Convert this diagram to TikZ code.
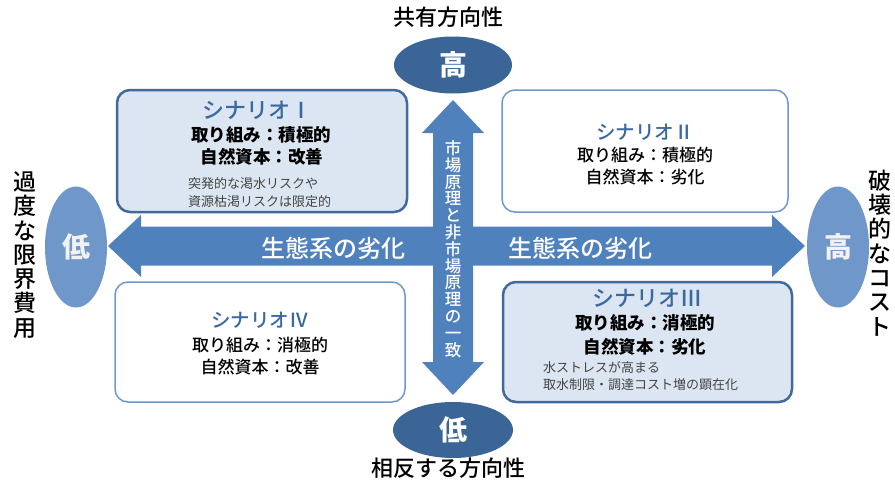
\documentclass[tikz,border=0pt]{standalone}
\usepackage{fontspec}
\setmainfont{Noto Sans CJK JP}
\newfontfamily\medfont{Noto Sans CJK JP Medium}
\definecolor{arrowblue}{HTML}{4F81BD}
\definecolor{ovaldark}{HTML}{3B6597}
\definecolor{ovallight}{HTML}{6F97C9}
\definecolor{boxfill}{HTML}{DCE6F2}
\definecolor{borderdark}{HTML}{41699C}
\definecolor{borderlight}{HTML}{6E98CD}
\definecolor{titleblue}{HTML}{3A68A0}
\definecolor{smallgray}{HTML}{444444}
\tikzset{
  boxdark/.style={draw=borderdark, line width=2.5pt, fill=boxfill, rounded corners=13pt, inner sep=0pt},
  boxlight/.style={draw=borderlight, line width=1.5pt, fill=white, rounded corners=13pt, inner sep=0pt},
  ovaldk/.style={ellipse, fill=ovaldark, text=white, inner sep=0pt, font=\fontsize{28}{28}\selectfont\bfseries},
  ovallt/.style={ellipse, fill=ovallight, text=white!95!black, inner sep=0pt, font=\fontsize{28}{28}\selectfont\bfseries},
  ttl/.style={text=titleblue, inner sep=0pt, font=\fontsize{#1}{#1}\selectfont\medfont},
  line/.style={text=black, inner sep=0pt, font=\fontsize{17}{17}\selectfont\medfont},
  boldline/.style={text=black, inner sep=0pt, font=\fontsize{17.5}{17.5}\selectfont\bfseries},
  small/.style={text=smallgray, inner sep=0pt, anchor=west, font=\fontsize{13}{13}\selectfont},
  axislabel/.style={text=black, inner sep=0pt, font=\fontsize{22}{22}\selectfont\medfont},
  arrowtext/.style={text=white, inner sep=0pt, font=\fontsize{24}{24}\selectfont\medfont},
}
\usetikzlibrary{shapes.geometric}
\begin{document}
\begin{tikzpicture}[x=1pt,y=-1pt]
\useasboundingbox (0,0) rectangle (895,490);
% horizontal double arrow
\fill[arrowblue] (108,246) -- (141,215) -- (141,226.5) -- (772,226.5) -- (772,215) -- (805,246)
  -- (772,277) -- (772,265.5) -- (141,265.5) -- (141,277) -- cycle;
% vertical double arrow
\fill[arrowblue] (453,100) -- (484,133) -- (473,133) -- (473,362) -- (484,362) -- (453,395)
  -- (422,362) -- (433,362) -- (433,133) -- (422,133) -- cycle;

% ovals
\node[ovaldk, minimum width=118pt, minimum height=57pt] (hiTop) at (453,65) {高};
\node[ovaldk, minimum width=120pt, minimum height=56pt] (loBot) at (453,430) {低};
\node[ovallt, minimum width=62pt, minimum height=121pt] (loLeft) at (76,247) {低};
\node[ovallt, minimum width=62pt, minimum height=121pt] (hiRight) at (838,247) {高};

% axis labels
\node[axislabel] (topLbl) at (448,17) {共有方向性};
\node[axislabel] (botLbl) at (448,468) {相反する方向性};
\node[axislabel, align=center, font=\fontsize{23}{24.3}\selectfont\medfont] (leftLbl) at (25,255) {過\\度\\な\\限\\界\\費\\用};
\node[axislabel, align=center, font=\fontsize{23}{24.3}\selectfont\medfont] (rightLbl) at (880,253) {破\\壊\\的\\な\\コ\\ス\\ト};

% arrow texts
\node[arrowtext] (hLeft) at (333,248) {生態系の劣化};
\node[arrowtext] (hRight) at (580,248) {生態系の劣化};
\node[text=white, inner sep=0pt, align=center, font=\fontsize{16.5}{16.8}\selectfont\medfont] (vText) at (453,249)
  {市\\場\\原\\理\\と\\非\\市\\場\\原\\理\\の\\一\\致};

% boxes
\node[boxdark, minimum width=290pt, minimum height=122pt] (s1) at (262,151) {};
\node[boxlight, minimum width=286pt, minimum height=122pt] (s2) at (645,151) {};
\node[boxlight, minimum width=290pt, minimum height=120pt] (s4) at (260,342) {};
\node[boxdark, minimum width=289pt, minimum height=120pt] (s3) at (647.5,342) {};

% scenario I
\node[ttl=22] (s1t) at (257,110) {シナリオⅠ};
\node[boldline] (s1a) at (261,135) {取り組み：積極的};
\node[boldline] (s1b) at (262,157) {自然資本：改善};
\node[small] (s1c) at (188,184) {突発的な渇水リスクや};
\node[small] (s1d) at (188,202) {資源枯渇リスクは限定的};

% scenario II
\node[ttl=19.5] (s2t) at (645,132) {シナリオⅡ};
\node[line] (s2a) at (645,155) {取り組み：積極的};
\node[line] (s2b) at (645,177) {自然資本：劣化};

% scenario IV
\node[ttl=19.5] (s4t) at (260,320) {シナリオⅣ};
\node[line] (s4a) at (260,345) {取り組み：消極的};
\node[line] (s4b) at (260,367) {自然資本：改善};

% scenario III
\node[ttl=22] (s3t) at (647,298) {シナリオⅢ};
\node[boldline] (s3a) at (645,323) {取り組み：消極的};
\node[boldline] (s3b) at (645,347) {自然資本：劣化};
\node[small] (s3c) at (543,368) {水ストレスが高まる};
\node[small] (s3d) at (543,385) {取水制限・調達コスト増の顕在化};
\end{tikzpicture}
\end{document}
